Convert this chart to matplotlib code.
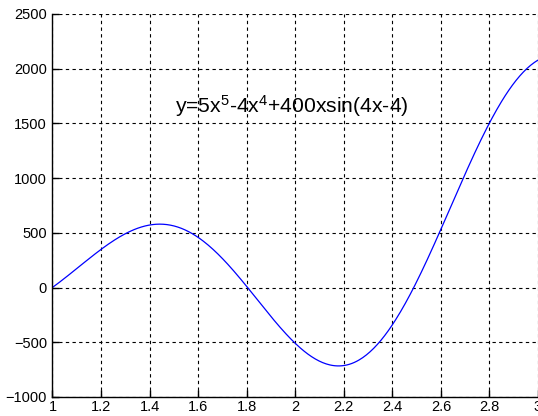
import numpy as np
import matplotlib
matplotlib.use("Agg")
import matplotlib.pyplot as plt

plt.rcParams['font.family'] = ['Liberation Sans', 'DejaVu Sans']
plt.rcParams['mathtext.fontset'] = 'custom'
plt.rcParams['mathtext.rm'] = 'Liberation Sans'
plt.rcParams['mathtext.default'] = 'regular'

# curve as given by the label: y = 5x^5 - 4x^4 + 400x sin(4x-4)
x = np.linspace(1, 3, 400)
y = 5 * x**5 - 4 * x**4 + 400 * x * np.sin(4 * x - 4)

xticks = [1, 1.2, 1.4, 1.6, 1.8, 2, 2.2, 2.4, 2.6, 2.8, 3]
yticks = [-1000, -500, 0, 500, 1000, 1500, 2000, 2500]
label = r'y=5x$^5$-4x$^4$+400xsin(4x-4)'

fig = plt.figure(figsize=(5.38, 4.16), dpi=100)
ax = fig.add_axes([0.0975, 0.0457, 0.9025, 0.9207])

ax.plot(x, y, color='#0000ff', linewidth=0.9)
ax.text(1.505, 1660, label, fontsize=15.2, ha='left', va='center')

ax.set_xlim(1, 3)
ax.set_ylim(-1000, 2500)
ax.set_xticks(xticks)
ax.set_xticklabels(['1', '1.2', '1.4', '1.6', '1.8', '2', '2.2', '2.4', '2.6', '2.8', '3'])
ax.set_yticks(yticks)

ax.grid(True, color='black', linestyle=(0, (3, 3)), linewidth=0.8)
ax.spines['top'].set_visible(False)
ax.spines['right'].set_visible(False)
ax.spines['left'].set_linewidth(1.0)
ax.spines['bottom'].set_linewidth(1.0)
ax.tick_params(direction='in', length=5, width=1, labelsize=10.5, colors='black')
ax.tick_params(axis='x', pad=2)
ax.tick_params(axis='y', pad=4)

fig.savefig('out.png', dpi=100)
